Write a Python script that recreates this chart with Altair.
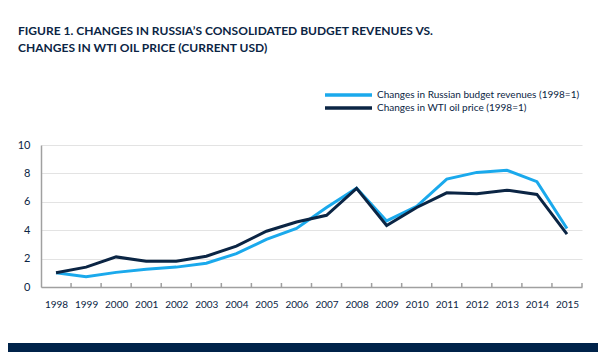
import altair as alt
import pandas as pd

years = list(range(1998, 2016))
revenues = [1.0, 0.73, 1.03, 1.25, 1.4, 1.67, 2.35, 3.35, 4.12, 5.6, 6.95, 4.65, 5.68, 7.6, 8.07, 8.22, 7.42, 4.12]
wti = [1.0, 1.4, 2.12, 1.82, 1.82, 2.17, 2.88, 3.93, 4.58, 5.05, 6.95, 4.33, 5.6, 6.63, 6.57, 6.82, 6.52, 3.72]
series_names = ["Changes in Russian budget revenues (1998=1)", "Changes in WTI oil price (1998=1)"]
y_ticks = [0, 2, 4, 6, 8, 10]
title_lines = ["FIGURE 1. CHANGES IN RUSSIA\u2019S CONSOLIDATED BUDGET REVENUES VS.",
               "CHANGES IN WTI OIL PRICE (CURRENT USD)"]

NAVY = "#0b2544"
LIGHT = "#1aa9ec"
FONT = "Lato"

rows = []
for i, y in enumerate(years):
    rows.append({"year": y, "value": revenues[i], "series": series_names[0]})
    rows.append({"year": y, "value": wti[i], "series": series_names[1]})
df = pd.DataFrame(rows)
ydf = pd.DataFrame({"year": years})
ldf = pd.DataFrame({"series": series_names})

W, H = 541, 142
xscale = alt.Scale(domain=[1997.5, 2015.5], nice=False, zero=False)
cscale = alt.Scale(domain=series_names, range=[LIGHT, NAVY])
xaxis = alt.Axis(title=None, values=years, format="d", labelAngle=0, ticks=False,
                 labelPadding=12, labelFont=FONT, labelFontSize=10, labelColor=NAVY,
                 labelFlush=False, labelOverlap=False,
                 domainColor="#a0a0a0", domainWidth=1.5, grid=False)

lines = alt.Chart(df).mark_line(strokeWidth=3, strokeJoin="miter").encode(
    x=alt.X("year:Q", scale=xscale, axis=xaxis),
    y=alt.Y("value:Q", scale=alt.Scale(domain=[0, 10]),
            axis=alt.Axis(title=None, values=y_ticks, ticks=False, labelPadding=11,
                          labelFont=FONT, labelFontSize=11, labelColor=NAVY,
                          domainColor="#a0a0a0", domainWidth=1.5,
                          gridColor="#e3e3e3", gridWidth=1)),
    color=alt.Color("series:N", scale=cscale, legend=None),
    order=alt.Order("series:N", sort="descending"),
)

ticks = alt.Chart(ydf).transform_calculate(edge="datum.year + 0.5").mark_rule(
    color="#a0a0a0", strokeWidth=1.5).encode(
    x=alt.X("edge:Q", scale=xscale, axis=xaxis),
    y=alt.value(H - 4),
    y2=alt.value(H),
)

lscale = alt.Scale(type="point", domain=series_names, range=[-50, -37], padding=0)
leg_sym = alt.Chart(ldf).mark_rule(strokeWidth=3.5).encode(
    x=alt.value(284), x2=alt.value(331),
    y=alt.Y("series:N", scale=lscale, axis=None),
    color=alt.Color("series:N", scale=cscale, legend=None),
)
leg_txt = alt.Chart(ldf).mark_text(align="left", baseline="middle", font=FONT,
                                    fontSize=10, color=NAVY).encode(
    x=alt.value(336),
    y=alt.Y("series:N", scale=lscale, axis=None),
    text="series:N",
)

band = alt.Chart(pd.DataFrame({"k": [0]})).mark_rect(color="#00234a").encode(
    x=alt.value(-33), x2=alt.value(W + 16),
    y=alt.value(H + 56), y2=alt.value(H + 66),
)

chart = alt.layer(lines, ticks, leg_sym, leg_txt, band).resolve_scale(
    y="independent"
).properties(
    width=W, height=H,
    padding={"left": 33, "right": 16, "top": 137, "bottom": 65},
    autosize=alt.AutoSizeParams(type="none"),
    title=alt.TitleParams(text=title_lines, anchor="start", frame="group", dx=-23,
                          offset=35, font=FONT, fontSize=12, fontWeight="bold",
                          color=NAVY, lineHeight=17),
).configure_view(stroke=None)

chart.save("out.html", embed_options={"renderer": "svg", "actions": False})
